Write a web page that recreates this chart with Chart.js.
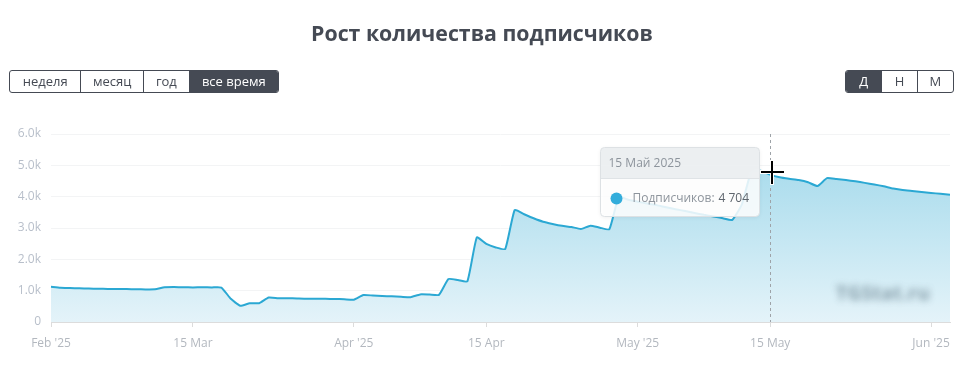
<!DOCTYPE html>
<html><head><meta charset="utf-8">
<script src="https://cdn.jsdelivr.net/npm/chart.js@4/dist/chart.umd.min.js"></script>
<style>
html,body{margin:0;padding:0;background:#fff;}
#wrap{position:relative;width:964px;height:376px;overflow:hidden;font-family:"Open Sans",sans-serif;}
#title{position:absolute;left:0;top:16px;width:964px;text-align:center;font-size:21.3px;font-weight:700;color:#454a54;line-height:34px;z-index:2;}
.grp{position:absolute;top:70px;height:23px;display:flex;border:1px solid #454a54;border-radius:3px;overflow:hidden;box-sizing:border-box;z-index:2;background:#fff;}
.grp div{font-size:13px;color:#454a54;line-height:21px;text-align:center;border-left:1px solid #454a54;box-sizing:border-box;}
.grp div:first-child{border-left:none;}
.grp div.on{background:#454a54;color:#fff;}
canvas{position:absolute;left:0;top:0;}
#wm{position:absolute;left:836px;top:280px;font-size:19px;font-weight:700;color:#6f8794;filter:blur(3.5px);opacity:0.8;z-index:3;letter-spacing:0.5px;}
</style></head>
<body>
<div id="wrap">
  <div id="title">Рост количества подписчиков</div>
  <div class="grp" style="left:9px;width:270px;">
    <div style="width:71px">неделя</div><div style="width:63px">месяц</div><div style="width:46px">год</div><div class="on" style="width:90px">все время</div>
  </div>
  <div class="grp" style="left:845px;width:109px;">
    <div class="on" style="width:36px">Д</div><div style="width:36px">Н</div><div style="width:37px">М</div>
  </div>
  <canvas id="c" width="964" height="376"></canvas>
  <div id="wm">TGStat.ru</div>
</div>
<script>
const categories = [
 "01.02","04.02","07.02","09.02","12.02","15.02","18.02","20.02","23.02","26.02","01.03","04.03","07.03","09.03","12.03","15.03",
 "16.03","17.03","18.03","19.03","20.03","21.03","22.03","23.03","24.03","25.03","26.03","27.03","28.03","29.03","30.03","31.03",
 "01.04","02.04","03.04","04.04","05.04","06.04","07.04","08.04","09.04","10.04","11.04","12.04","13.04","14.04","15.04","16.04","17.04","18.04","19.04","20.04","21.04","22.04","23.04","24.04","25.04","26.04","27.04","28.04","29.04","30.04",
 "01.05","02.05","03.05","04.05","05.05","06.05","07.05","08.05","09.05","10.05","11.05","12.05","13.05","14.05","15.05","16.05","17.05","18.05","19.05","20.05","21.05","22.05","23.05","24.05","25.05","26.05","27.05","28.05","29.05","30.05","31.05",
 "01.06","02.06","03.06"
];
const subscribers = [
 1125,1095,1085,1075,1068,1060,1055,1050,1050,1045,1040,1045,1110,1115,1110,1105,
 1110,1105,1100,740,520,600,600,780,760,760,750,740,745,740,735,725,
 710,860,845,830,820,805,790,880,875,865,1370,1340,1300,2700,2490,2380,2330,3575,3440,3310,3200,3130,3070,3030,2970,3075,3010,2960,
 3990,3900,3840,3780,3730,3660,3600,3540,3480,3420,3370,3310,3260,3750,4790,4830,4704,4620,4570,4530,4460,4340,4590,4560,4530,4490,4440,4390,4330,4260,
 4210,4180,4150,4120,4090,4060
];
const xTickLabels = {"01.02":"Feb '25","15.03":"15 Mar","01.04":"Apr '25","15.04":"15 Apr","01.05":"May '25","15.05":"15 May","01.06":"Jun '25"};
const yTicks = [0,1000,2000,3000,4000,5000,6000];
const ruMonths = ["Янв","Фев","Мар","Апр","Май","Июн"];
const seriesName = "Подписчиков";
const tooltipIndex = 76;
const FONT = '"Open Sans", sans-serif';

function fmtThousands(v){return String(v).replace(/\B(?=(\d{3})+(?!\d))/g,' ');}
function fmtDate(l){const [d,m]=l.split('.');return parseInt(d,10)+' '+ruMonths[parseInt(m,10)-1]+' 2025';}

function roundRect(ctx,x,y,w,h,r){ctx.beginPath();ctx.moveTo(x+r,y);ctx.lineTo(x+w-r,y);ctx.quadraticCurveTo(x+w,y,x+w,y+r);ctx.lineTo(x+w,y+h-r);ctx.quadraticCurveTo(x+w,y+h,x+w-r,y+h);ctx.lineTo(x+r,y+h);ctx.quadraticCurveTo(x,y+h,x,y+h-r);ctx.lineTo(x,y+r);ctx.quadraticCurveTo(x,y,x+r,y);ctx.closePath();}

const overlay = {
  id:'overlay',
  afterDraw(chart){
    const ctx=chart.ctx, area=chart.chartArea;
    const pt=chart.getDatasetMeta(0).data[tooltipIndex];
    const px=Math.round(pt.x)+0.5;
    ctx.save();
    ctx.strokeStyle='#9ea3a8';ctx.lineWidth=1;ctx.setLineDash([3,3]);
    ctx.beginPath();ctx.moveTo(px,area.top);ctx.lineTo(px,area.bottom);ctx.stroke();
    ctx.setLineDash([]);
    // tooltip
    const w=159,h=69,bx=Math.round(pt.x)-169.5,by=Math.round(pt.y)-27.5;
    ctx.shadowColor='rgba(0,0,0,0.08)';ctx.shadowBlur=4;ctx.shadowOffsetY=1;
    roundRect(ctx,bx,by,w,h,4);ctx.fillStyle='rgba(255,255,255,0.86)';ctx.fill();
    ctx.shadowColor='transparent';
    ctx.save();roundRect(ctx,bx,by,w,h,4);ctx.clip();
    ctx.fillStyle='rgba(236,239,241,0.95)';ctx.fillRect(bx,by,w,31);
    ctx.strokeStyle='#dfe3e6';ctx.beginPath();ctx.moveTo(bx,by+31);ctx.lineTo(bx+w,by+31);ctx.stroke();
    ctx.restore();
    roundRect(ctx,bx,by,w,h,4);ctx.strokeStyle='#dde1e4';ctx.stroke();
    ctx.textBaseline='middle';ctx.textAlign='left';
    ctx.font='12px '+FONT;ctx.fillStyle='#8d949c';
    ctx.fillText(fmtDate(categories[tooltipIndex]),bx+8,by+16);
    ctx.beginPath();ctx.arc(bx+16,by+51,6,0,Math.PI*2);ctx.fillStyle='#33addb';ctx.fill();
    ctx.fillStyle='#8d949c';ctx.fillText(seriesName+':',bx+32,by+51);
    ctx.font='12px '+FONT;ctx.fillStyle='#5f666e';
    ctx.fillText(fmtThousands(subscribers[tooltipIndex]),bx+118,by+51);
    // cursor cross
    const cx=Math.round(pt.x)+2, cy=Math.round(pt.y)-3;
    ctx.fillStyle='#fff';ctx.fillRect(cx-12,cy-2,25,4);ctx.fillRect(cx-2,cy-12,4,25);
    ctx.fillStyle='#000';ctx.fillRect(cx-11,cy-1,23,2);ctx.fillRect(cx-1,cy-11,2,23);
    ctx.restore();
  }
};

new Chart(document.getElementById('c'),{
  type:'line',
  data:{labels:categories,datasets:[{
    label:seriesName,data:subscribers,
    borderColor:'#2ba8d3',borderWidth:2,pointRadius:0,tension:0.15,fill:'origin',
    backgroundColor(ctx){const a=ctx.chart.chartArea;if(!a)return 'rgba(160,216,234,0.5)';
      const g=ctx.chart.ctx.createLinearGradient(0,a.top,0,a.bottom);
      g.addColorStop(0,'#9dd7ea');g.addColorStop(1,'#e4f3f9');return g;}
  }]},
  options:{
    responsive:false,animation:false,
    layout:{padding:{top:134,right:14,bottom:24,left:0}},
    plugins:{legend:{display:false},tooltip:{enabled:false}},
    scales:{
      x:{type:'category',offset:false,
        grid:{drawOnChartArea:false,drawTicks:true,tickLength:5,color:'#dcdcdc'},
        border:{display:true,color:'#dcdcdc'},
        ticks:{autoSkip:false,maxRotation:0,padding:9,color:'#b3b8bf',font:{size:12,family:FONT},
          callback(v){const l=this.getLabelForValue(v);return xTickLabels[l]??null;}},
        afterFit(s){s.height=30;}},
      y:{min:0,max:6000,
        afterBuildTicks(s){s.ticks=yTicks.map(v=>({value:v}));},
        ticks:{padding:10,color:'#b8bfca',font:{size:12,family:FONT},
          callback(v){return v===0?'0':(v/1000).toFixed(1)+'k';}},
        grid:{color:'#f3f4f5',drawTicks:false},border:{display:false},
        afterFit(s){s.width=51;}}
    }
  },
  plugins:[overlay]
});
</script>
</body></html>
